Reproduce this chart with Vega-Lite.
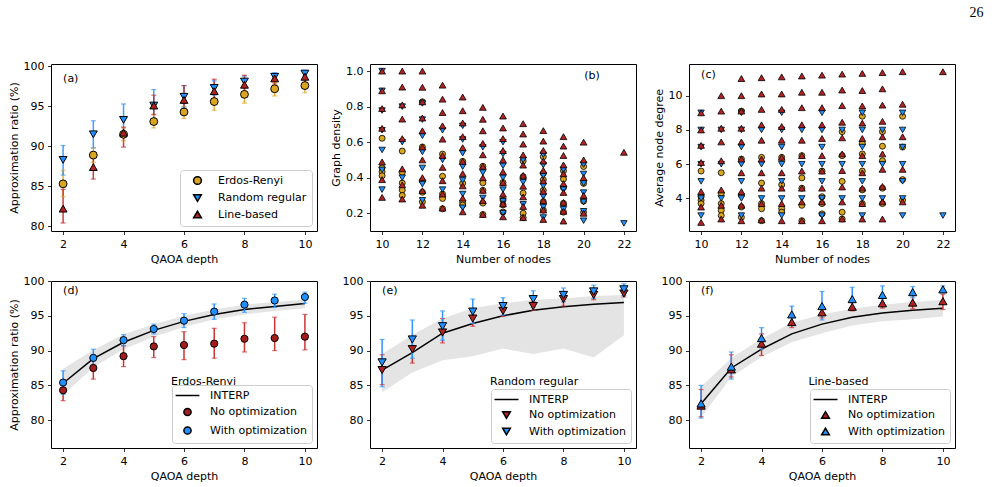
{
  "$schema": "https://vega.github.io/schema/vega-lite/v6.json",
  "background": "white",
  "padding": {"left": 7, "top": 5, "right": 0, "bottom": 0},
  "title": {"text": "26", "anchor": "end", "font": "Liberation Serif", "fontSize": 14, "fontWeight": "normal", "color": "black", "dx": 28, "offset": 40},
  "columns": 3,
  "spacing": {"row": 50, "column": 53},
  "bounds": "flush",
  "resolve": {"scale": {"fill": "independent", "shape": "independent", "stroke": "independent", "color": "independent", "size": "independent"}, "legend": {"fill": "independent", "shape": "independent"}},
  "datasets": {
    "summary_a": [
      {"graph": "Erdos-Renyi", "depth": 2, "ratio": 85.3, "lo": 83.7, "hi": 87.0},
      {"graph": "Erdos-Renyi", "depth": 3, "ratio": 88.9, "lo": 88.0, "hi": 89.8},
      {"graph": "Erdos-Renyi", "depth": 4, "ratio": 91.5, "lo": 90.7, "hi": 92.3},
      {"graph": "Erdos-Renyi", "depth": 5, "ratio": 93.1, "lo": 92.3, "hi": 93.9},
      {"graph": "Erdos-Renyi", "depth": 6, "ratio": 94.3, "lo": 93.5, "hi": 95.0},
      {"graph": "Erdos-Renyi", "depth": 7, "ratio": 95.6, "lo": 94.5, "hi": 96.5},
      {"graph": "Erdos-Renyi", "depth": 8, "ratio": 96.5, "lo": 95.4, "hi": 97.6},
      {"graph": "Erdos-Renyi", "depth": 9, "ratio": 97.2, "lo": 96.3, "hi": 98.0},
      {"graph": "Erdos-Renyi", "depth": 10, "ratio": 97.6, "lo": 96.7, "hi": 98.5},
      {"graph": "Random regular", "depth": 2, "ratio": 88.3, "lo": 86.4, "hi": 90.1},
      {"graph": "Random regular", "depth": 3, "ratio": 91.5, "lo": 89.8, "hi": 93.2},
      {"graph": "Random regular", "depth": 4, "ratio": 93.3, "lo": 91.2, "hi": 95.3},
      {"graph": "Random regular", "depth": 5, "ratio": 95.1, "lo": 93.2, "hi": 97.1},
      {"graph": "Random regular", "depth": 6, "ratio": 96.2, "lo": 94.9, "hi": 97.6},
      {"graph": "Random regular", "depth": 7, "ratio": 97.3, "lo": 96.4, "hi": 98.2},
      {"graph": "Random regular", "depth": 8, "ratio": 98.1, "lo": 97.4, "hi": 98.8},
      {"graph": "Random regular", "depth": 9, "ratio": 98.7, "lo": 98.3, "hi": 99.2},
      {"graph": "Random regular", "depth": 10, "ratio": 99.1, "lo": 98.8, "hi": 99.5},
      {"graph": "Line-based", "depth": 2, "ratio": 82.2, "lo": 80.4, "hi": 84.6},
      {"graph": "Line-based", "depth": 3, "ratio": 87.4, "lo": 85.9, "hi": 89.3},
      {"graph": "Line-based", "depth": 4, "ratio": 91.7, "lo": 89.9, "hi": 92.4},
      {"graph": "Line-based", "depth": 5, "ratio": 95.1, "lo": 94.0, "hi": 96.4},
      {"graph": "Line-based", "depth": 6, "ratio": 95.8, "lo": 94.3, "hi": 97.6},
      {"graph": "Line-based", "depth": 7, "ratio": 96.9, "lo": 95.5, "hi": 98.4},
      {"graph": "Line-based", "depth": 8, "ratio": 97.7, "lo": 96.6, "hi": 98.9},
      {"graph": "Line-based", "depth": 9, "ratio": 98.5, "lo": 97.8, "hi": 99.1},
      {"graph": "Line-based", "depth": 10, "ratio": 98.7, "lo": 98.0, "hi": 99.2}
    ],
    "opt": [
      {"graph": "Erdos-Renyi", "method": "No optimization", "depth": 2, "ratio": 84.3, "lo": 82.8, "hi": 85.8},
      {"graph": "Erdos-Renyi", "method": "No optimization", "depth": 3, "ratio": 87.5, "lo": 85.9, "hi": 89.0},
      {"graph": "Erdos-Renyi", "method": "No optimization", "depth": 4, "ratio": 89.2, "lo": 87.7, "hi": 90.7},
      {"graph": "Erdos-Renyi", "method": "No optimization", "depth": 5, "ratio": 90.6, "lo": 89.0, "hi": 92.0},
      {"graph": "Erdos-Renyi", "method": "No optimization", "depth": 6, "ratio": 90.8, "lo": 88.7, "hi": 92.7},
      {"graph": "Erdos-Renyi", "method": "No optimization", "depth": 7, "ratio": 91.0, "lo": 88.9, "hi": 93.2},
      {"graph": "Erdos-Renyi", "method": "No optimization", "depth": 8, "ratio": 91.7, "lo": 89.8, "hi": 94.0},
      {"graph": "Erdos-Renyi", "method": "No optimization", "depth": 9, "ratio": 91.8, "lo": 90.0, "hi": 94.8},
      {"graph": "Erdos-Renyi", "method": "No optimization", "depth": 10, "ratio": 92.0, "lo": 90.1, "hi": 95.2},
      {"graph": "Erdos-Renyi", "method": "With optimization", "depth": 2, "ratio": 85.4, "lo": 83.7, "hi": 87.1},
      {"graph": "Erdos-Renyi", "method": "With optimization", "depth": 3, "ratio": 88.95, "lo": 87.6, "hi": 90.2},
      {"graph": "Erdos-Renyi", "method": "With optimization", "depth": 4, "ratio": 91.5, "lo": 90.7, "hi": 92.3},
      {"graph": "Erdos-Renyi", "method": "With optimization", "depth": 5, "ratio": 93.1, "lo": 92.4, "hi": 93.8},
      {"graph": "Erdos-Renyi", "method": "With optimization", "depth": 6, "ratio": 94.3, "lo": 93.3, "hi": 95.3},
      {"graph": "Erdos-Renyi", "method": "With optimization", "depth": 7, "ratio": 95.6, "lo": 94.5, "hi": 96.7},
      {"graph": "Erdos-Renyi", "method": "With optimization", "depth": 8, "ratio": 96.6, "lo": 95.5, "hi": 97.5},
      {"graph": "Erdos-Renyi", "method": "With optimization", "depth": 9, "ratio": 97.2, "lo": 96.2, "hi": 98.1},
      {"graph": "Erdos-Renyi", "method": "With optimization", "depth": 10, "ratio": 97.7, "lo": 96.8, "hi": 98.4},
      {"graph": "Random regular", "method": "No optimization", "depth": 2, "ratio": 87.2, "lo": 85.1, "hi": 89.4},
      {"graph": "Random regular", "method": "No optimization", "depth": 3, "ratio": 90.2, "lo": 88.2, "hi": 92.0},
      {"graph": "Random regular", "method": "No optimization", "depth": 4, "ratio": 92.6, "lo": 91.1, "hi": 94.6},
      {"graph": "Random regular", "method": "No optimization", "depth": 5, "ratio": 94.6, "lo": 93.5, "hi": 95.6},
      {"graph": "Random regular", "method": "No optimization", "depth": 6, "ratio": 95.7, "lo": 94.9, "hi": 96.6},
      {"graph": "Random regular", "method": "No optimization", "depth": 7, "ratio": 96.4, "lo": 95.8, "hi": 97.0},
      {"graph": "Random regular", "method": "No optimization", "depth": 8, "ratio": 97.4, "lo": 96.4, "hi": 98.1},
      {"graph": "Random regular", "method": "No optimization", "depth": 9, "ratio": 98.0, "lo": 97.3, "hi": 98.7},
      {"graph": "Random regular", "method": "No optimization", "depth": 10, "ratio": 98.2, "lo": 97.7, "hi": 98.8},
      {"graph": "Random regular", "method": "With optimization", "depth": 2, "ratio": 88.3, "lo": 84.8, "hi": 91.6},
      {"graph": "Random regular", "method": "With optimization", "depth": 3, "ratio": 91.6, "lo": 88.9, "hi": 94.4},
      {"graph": "Random regular", "method": "With optimization", "depth": 4, "ratio": 93.5, "lo": 91.5, "hi": 95.7},
      {"graph": "Random regular", "method": "With optimization", "depth": 5, "ratio": 95.6, "lo": 93.9, "hi": 97.4},
      {"graph": "Random regular", "method": "With optimization", "depth": 6, "ratio": 96.4, "lo": 95.1, "hi": 97.6},
      {"graph": "Random regular", "method": "With optimization", "depth": 7, "ratio": 97.4, "lo": 96.2, "hi": 98.6},
      {"graph": "Random regular", "method": "With optimization", "depth": 8, "ratio": 98.0, "lo": 97.0, "hi": 99.0},
      {"graph": "Random regular", "method": "With optimization", "depth": 9, "ratio": 98.5, "lo": 97.5, "hi": 99.4},
      {"graph": "Random regular", "method": "With optimization", "depth": 10, "ratio": 98.8, "lo": 97.9, "hi": 99.6},
      {"graph": "Line-based", "method": "No optimization", "depth": 2, "ratio": 82.1, "lo": 80.5, "hi": 84.4},
      {"graph": "Line-based", "method": "No optimization", "depth": 3, "ratio": 87.3, "lo": 86.2, "hi": 89.4},
      {"graph": "Line-based", "method": "No optimization", "depth": 4, "ratio": 91.0, "lo": 89.3, "hi": 92.4},
      {"graph": "Line-based", "method": "No optimization", "depth": 5, "ratio": 94.1, "lo": 93.3, "hi": 94.9},
      {"graph": "Line-based", "method": "No optimization", "depth": 6, "ratio": 95.5, "lo": 94.7, "hi": 96.2},
      {"graph": "Line-based", "method": "No optimization", "depth": 7, "ratio": 96.3, "lo": 95.7, "hi": 96.9},
      {"graph": "Line-based", "method": "No optimization", "depth": 8, "ratio": 96.8, "lo": 96.1, "hi": 97.5},
      {"graph": "Line-based", "method": "No optimization", "depth": 9, "ratio": 96.9, "lo": 96.0, "hi": 97.9},
      {"graph": "Line-based", "method": "No optimization", "depth": 10, "ratio": 97.1, "lo": 95.9, "hi": 98.1},
      {"graph": "Line-based", "method": "With optimization", "depth": 2, "ratio": 82.4, "lo": 80.3, "hi": 85.0},
      {"graph": "Line-based", "method": "With optimization", "depth": 3, "ratio": 87.7, "lo": 85.9, "hi": 89.8},
      {"graph": "Line-based", "method": "With optimization", "depth": 4, "ratio": 91.8, "lo": 90.2, "hi": 93.3},
      {"graph": "Line-based", "method": "With optimization", "depth": 5, "ratio": 95.2, "lo": 94.1, "hi": 96.4},
      {"graph": "Line-based", "method": "With optimization", "depth": 6, "ratio": 96.4, "lo": 94.4, "hi": 98.5},
      {"graph": "Line-based", "method": "With optimization", "depth": 7, "ratio": 97.4, "lo": 95.9, "hi": 99.1},
      {"graph": "Line-based", "method": "With optimization", "depth": 8, "ratio": 98.0, "lo": 96.9, "hi": 99.3},
      {"graph": "Line-based", "method": "With optimization", "depth": 9, "ratio": 98.4, "lo": 97.6, "hi": 99.2},
      {"graph": "Line-based", "method": "With optimization", "depth": 10, "ratio": 98.8, "lo": 98.3, "hi": 99.3}
    ],
    "interp": [
      {"graph": "Erdos-Renyi", "depth": 2, "ratio": 85.3, "lo": 83.6, "hi": 87.4},
      {"graph": "Erdos-Renyi", "depth": 3, "ratio": 88.85, "lo": 87.6, "hi": 90.1},
      {"graph": "Erdos-Renyi", "depth": 4, "ratio": 91.2, "lo": 90.2, "hi": 92.3},
      {"graph": "Erdos-Renyi", "depth": 5, "ratio": 92.9, "lo": 92.0, "hi": 93.8},
      {"graph": "Erdos-Renyi", "depth": 6, "ratio": 94.2, "lo": 93.4, "hi": 95.0},
      {"graph": "Erdos-Renyi", "depth": 7, "ratio": 95.2, "lo": 94.5, "hi": 95.9},
      {"graph": "Erdos-Renyi", "depth": 8, "ratio": 95.9, "lo": 95.2, "hi": 96.6},
      {"graph": "Erdos-Renyi", "depth": 9, "ratio": 96.35, "lo": 95.7, "hi": 97.0},
      {"graph": "Erdos-Renyi", "depth": 10, "ratio": 96.75, "lo": 96.1, "hi": 97.3},
      {"graph": "Random regular", "depth": 2, "ratio": 87.2, "lo": 84.0, "hi": 89.5},
      {"graph": "Random regular", "depth": 3, "ratio": 89.7, "lo": 86.85, "hi": 92.25},
      {"graph": "Random regular", "depth": 4, "ratio": 92.5, "lo": 88.6, "hi": 94.6},
      {"graph": "Random regular", "depth": 5, "ratio": 93.9, "lo": 89.2, "hi": 96.1},
      {"graph": "Random regular", "depth": 6, "ratio": 95.0, "lo": 90.3, "hi": 96.8},
      {"graph": "Random regular", "depth": 7, "ratio": 95.8, "lo": 89.5, "hi": 97.3},
      {"graph": "Random regular", "depth": 8, "ratio": 96.3, "lo": 90.3, "hi": 97.5},
      {"graph": "Random regular", "depth": 9, "ratio": 96.65, "lo": 89.0, "hi": 97.85},
      {"graph": "Random regular", "depth": 10, "ratio": 96.9, "lo": 92.2, "hi": 98.0},
      {"graph": "Line-based", "depth": 2, "ratio": 82.35, "lo": 80.4, "hi": 84.8},
      {"graph": "Line-based", "depth": 3, "ratio": 87.5, "lo": 86.2, "hi": 88.95},
      {"graph": "Line-based", "depth": 4, "ratio": 90.2, "lo": 89.1, "hi": 91.7},
      {"graph": "Line-based", "depth": 5, "ratio": 92.4, "lo": 91.2, "hi": 94.0},
      {"graph": "Line-based", "depth": 6, "ratio": 93.8, "lo": 92.5, "hi": 95.2},
      {"graph": "Line-based", "depth": 7, "ratio": 94.8, "lo": 93.6, "hi": 96.0},
      {"graph": "Line-based", "depth": 8, "ratio": 95.4, "lo": 94.2, "hi": 96.6},
      {"graph": "Line-based", "depth": 9, "ratio": 95.8, "lo": 94.5, "hi": 97.0},
      {"graph": "Line-based", "depth": 10, "ratio": 96.1, "lo": 94.9, "hi": 97.3}
    ],
    "graphs": [
      {"graph": "Erdos-Renyi", "n": 10, "degree": 5.6, "density": 0.622},
      {"graph": "Erdos-Renyi", "n": 10, "degree": 4.1, "density": 0.456},
      {"graph": "Erdos-Renyi", "n": 10, "degree": 3.9, "density": 0.433},
      {"graph": "Erdos-Renyi", "n": 10, "degree": 3.7, "density": 0.411},
      {"graph": "Erdos-Renyi", "n": 11, "degree": 5.5, "density": 0.55},
      {"graph": "Erdos-Renyi", "n": 11, "degree": 4.3, "density": 0.43},
      {"graph": "Erdos-Renyi", "n": 11, "degree": 3.7, "density": 0.37},
      {"graph": "Erdos-Renyi", "n": 11, "degree": 3.3, "density": 0.33},
      {"graph": "Erdos-Renyi", "n": 11, "degree": 3.0, "density": 0.30},
      {"graph": "Erdos-Renyi", "n": 12, "degree": 9.1, "density": 0.827},
      {"graph": "Erdos-Renyi", "n": 12, "degree": 6.3, "density": 0.573},
      {"graph": "Erdos-Renyi", "n": 12, "degree": 4.2, "density": 0.382},
      {"graph": "Erdos-Renyi", "n": 12, "degree": 3.5, "density": 0.318},
      {"graph": "Erdos-Renyi", "n": 12, "degree": 2.9, "density": 0.264},
      {"graph": "Erdos-Renyi", "n": 13, "degree": 6.4, "density": 0.533},
      {"graph": "Erdos-Renyi", "n": 13, "degree": 4.9, "density": 0.408},
      {"graph": "Erdos-Renyi", "n": 13, "degree": 3.7, "density": 0.308},
      {"graph": "Erdos-Renyi", "n": 13, "degree": 3.4, "density": 0.283},
      {"graph": "Erdos-Renyi", "n": 13, "degree": 2.7, "density": 0.225},
      {"graph": "Erdos-Renyi", "n": 14, "degree": 6.4, "density": 0.492},
      {"graph": "Erdos-Renyi", "n": 14, "degree": 4.8, "density": 0.369},
      {"graph": "Erdos-Renyi", "n": 14, "degree": 3.4, "density": 0.262},
      {"graph": "Erdos-Renyi", "n": 14, "degree": 3.2, "density": 0.246},
      {"graph": "Erdos-Renyi", "n": 15, "degree": 6.5, "density": 0.464},
      {"graph": "Erdos-Renyi", "n": 15, "degree": 5.2, "density": 0.371},
      {"graph": "Erdos-Renyi", "n": 15, "degree": 4.6, "density": 0.329},
      {"graph": "Erdos-Renyi", "n": 15, "degree": 3.6, "density": 0.257},
      {"graph": "Erdos-Renyi", "n": 15, "degree": 2.7, "density": 0.193},
      {"graph": "Erdos-Renyi", "n": 16, "degree": 5.6, "density": 0.373},
      {"graph": "Erdos-Renyi", "n": 16, "degree": 4.1, "density": 0.273},
      {"graph": "Erdos-Renyi", "n": 16, "degree": 3.7, "density": 0.247},
      {"graph": "Erdos-Renyi", "n": 16, "degree": 3.1, "density": 0.207},
      {"graph": "Erdos-Renyi", "n": 17, "degree": 7.9, "density": 0.494},
      {"graph": "Erdos-Renyi", "n": 17, "degree": 6.5, "density": 0.406},
      {"graph": "Erdos-Renyi", "n": 17, "degree": 5.0, "density": 0.313},
      {"graph": "Erdos-Renyi", "n": 17, "degree": 3.2, "density": 0.2},
      {"graph": "Erdos-Renyi", "n": 17, "degree": 2.8, "density": 0.175},
      {"graph": "Erdos-Renyi", "n": 18, "degree": 8.8, "density": 0.518},
      {"graph": "Erdos-Renyi", "n": 18, "degree": 7.2, "density": 0.424},
      {"graph": "Erdos-Renyi", "n": 18, "degree": 6.6, "density": 0.388},
      {"graph": "Erdos-Renyi", "n": 18, "degree": 5.6, "density": 0.329},
      {"graph": "Erdos-Renyi", "n": 18, "degree": 4.5, "density": 0.265},
      {"graph": "Erdos-Renyi", "n": 18, "degree": 3.7, "density": 0.218},
      {"graph": "Erdos-Renyi", "n": 19, "degree": 7.9, "density": 0.439},
      {"graph": "Erdos-Renyi", "n": 19, "degree": 7.05, "density": 0.392},
      {"graph": "Erdos-Renyi", "n": 19, "degree": 6.2, "density": 0.344},
      {"graph": "Erdos-Renyi", "n": 19, "degree": 4.6, "density": 0.256},
      {"graph": "Erdos-Renyi", "n": 19, "degree": 3.7, "density": 0.206},
      {"graph": "Erdos-Renyi", "n": 20, "degree": 8.8, "density": 0.463},
      {"graph": "Erdos-Renyi", "n": 20, "degree": 7.0, "density": 0.368},
      {"graph": "Erdos-Renyi", "n": 20, "degree": 5.1, "density": 0.268},
      {"graph": "Erdos-Renyi", "n": 20, "degree": 3.9, "density": 0.205},
      {"graph": "Random regular", "n": 10, "degree": 3, "density": 0.333},
      {"graph": "Random regular", "n": 10, "degree": 4, "density": 0.444},
      {"graph": "Random regular", "n": 10, "degree": 5, "density": 0.556},
      {"graph": "Random regular", "n": 10, "degree": 6, "density": 0.667},
      {"graph": "Random regular", "n": 10, "degree": 7, "density": 0.778},
      {"graph": "Random regular", "n": 10, "degree": 8, "density": 0.889},
      {"graph": "Random regular", "n": 10, "degree": 9, "density": 1.0},
      {"graph": "Random regular", "n": 11, "degree": 4, "density": 0.4},
      {"graph": "Random regular", "n": 11, "degree": 6, "density": 0.6},
      {"graph": "Random regular", "n": 11, "degree": 8, "density": 0.8},
      {"graph": "Random regular", "n": 12, "degree": 3, "density": 0.273},
      {"graph": "Random regular", "n": 12, "degree": 4, "density": 0.364},
      {"graph": "Random regular", "n": 12, "degree": 5, "density": 0.455},
      {"graph": "Random regular", "n": 12, "degree": 6, "density": 0.545},
      {"graph": "Random regular", "n": 12, "degree": 7, "density": 0.636},
      {"graph": "Random regular", "n": 12, "degree": 8, "density": 0.727},
      {"graph": "Random regular", "n": 12, "degree": 9, "density": 0.818},
      {"graph": "Random regular", "n": 13, "degree": 4, "density": 0.333},
      {"graph": "Random regular", "n": 13, "degree": 6, "density": 0.5},
      {"graph": "Random regular", "n": 13, "degree": 8, "density": 0.667},
      {"graph": "Random regular", "n": 14, "degree": 3, "density": 0.231},
      {"graph": "Random regular", "n": 14, "degree": 4, "density": 0.308},
      {"graph": "Random regular", "n": 14, "degree": 5, "density": 0.385},
      {"graph": "Random regular", "n": 14, "degree": 6, "density": 0.462},
      {"graph": "Random regular", "n": 14, "degree": 7, "density": 0.538},
      {"graph": "Random regular", "n": 14, "degree": 8, "density": 0.615},
      {"graph": "Random regular", "n": 14, "degree": 9, "density": 0.692},
      {"graph": "Random regular", "n": 15, "degree": 4, "density": 0.286},
      {"graph": "Random regular", "n": 15, "degree": 6, "density": 0.429},
      {"graph": "Random regular", "n": 15, "degree": 8, "density": 0.571},
      {"graph": "Random regular", "n": 16, "degree": 3, "density": 0.2},
      {"graph": "Random regular", "n": 16, "degree": 4, "density": 0.267},
      {"graph": "Random regular", "n": 16, "degree": 5, "density": 0.333},
      {"graph": "Random regular", "n": 16, "degree": 6, "density": 0.4},
      {"graph": "Random regular", "n": 16, "degree": 7, "density": 0.467},
      {"graph": "Random regular", "n": 16, "degree": 8, "density": 0.533},
      {"graph": "Random regular", "n": 16, "degree": 9, "density": 0.6},
      {"graph": "Random regular", "n": 17, "degree": 4, "density": 0.25},
      {"graph": "Random regular", "n": 17, "degree": 6, "density": 0.375},
      {"graph": "Random regular", "n": 17, "degree": 8, "density": 0.5},
      {"graph": "Random regular", "n": 18, "degree": 3, "density": 0.176},
      {"graph": "Random regular", "n": 18, "degree": 4, "density": 0.235},
      {"graph": "Random regular", "n": 18, "degree": 5, "density": 0.294},
      {"graph": "Random regular", "n": 18, "degree": 6, "density": 0.353},
      {"graph": "Random regular", "n": 18, "degree": 7, "density": 0.412},
      {"graph": "Random regular", "n": 18, "degree": 8, "density": 0.471},
      {"graph": "Random regular", "n": 18, "degree": 9, "density": 0.529},
      {"graph": "Random regular", "n": 19, "degree": 4, "density": 0.222},
      {"graph": "Random regular", "n": 19, "degree": 6, "density": 0.333},
      {"graph": "Random regular", "n": 19, "degree": 8, "density": 0.444},
      {"graph": "Random regular", "n": 20, "degree": 3, "density": 0.158},
      {"graph": "Random regular", "n": 20, "degree": 4, "density": 0.211},
      {"graph": "Random regular", "n": 20, "degree": 5, "density": 0.263},
      {"graph": "Random regular", "n": 20, "degree": 6, "density": 0.316},
      {"graph": "Random regular", "n": 20, "degree": 7, "density": 0.368},
      {"graph": "Random regular", "n": 20, "degree": 8, "density": 0.421},
      {"graph": "Random regular", "n": 20, "degree": 9, "density": 0.474},
      {"graph": "Random regular", "n": 22, "degree": 3, "density": 0.143},
      {"graph": "Line-based", "n": 10, "degree": 9.0, "density": 1.0},
      {"graph": "Line-based", "n": 10, "degree": 8.0, "density": 0.889},
      {"graph": "Line-based", "n": 10, "degree": 7.1, "density": 0.789},
      {"graph": "Line-based", "n": 10, "degree": 6.1, "density": 0.678},
      {"graph": "Line-based", "n": 10, "degree": 4.4, "density": 0.489},
      {"graph": "Line-based", "n": 10, "degree": 3.5, "density": 0.389},
      {"graph": "Line-based", "n": 10, "degree": 2.6, "density": 0.289},
      {"graph": "Line-based", "n": 11, "degree": 10.0, "density": 1.0},
      {"graph": "Line-based", "n": 11, "degree": 9.1, "density": 0.91},
      {"graph": "Line-based", "n": 11, "degree": 8.1, "density": 0.81},
      {"graph": "Line-based", "n": 11, "degree": 7.3, "density": 0.73},
      {"graph": "Line-based", "n": 11, "degree": 6.2, "density": 0.62},
      {"graph": "Line-based", "n": 11, "degree": 4.5, "density": 0.45},
      {"graph": "Line-based", "n": 11, "degree": 3.6, "density": 0.36},
      {"graph": "Line-based", "n": 11, "degree": 2.8, "density": 0.28},
      {"graph": "Line-based", "n": 12, "degree": 11.0, "density": 1.0},
      {"graph": "Line-based", "n": 12, "degree": 10.0, "density": 0.909},
      {"graph": "Line-based", "n": 12, "degree": 9.1, "density": 0.827},
      {"graph": "Line-based", "n": 12, "degree": 8.1, "density": 0.736},
      {"graph": "Line-based", "n": 12, "degree": 7.3, "density": 0.664},
      {"graph": "Line-based", "n": 12, "degree": 6.3, "density": 0.573},
      {"graph": "Line-based", "n": 12, "degree": 5.5, "density": 0.5},
      {"graph": "Line-based", "n": 12, "degree": 4.4, "density": 0.4},
      {"graph": "Line-based", "n": 12, "degree": 3.6, "density": 0.327},
      {"graph": "Line-based", "n": 12, "degree": 2.7, "density": 0.245},
      {"graph": "Line-based", "n": 13, "degree": 11.05, "density": 0.921},
      {"graph": "Line-based", "n": 13, "degree": 10.1, "density": 0.842},
      {"graph": "Line-based", "n": 13, "degree": 9.2, "density": 0.767},
      {"graph": "Line-based", "n": 13, "degree": 8.3, "density": 0.692},
      {"graph": "Line-based", "n": 13, "degree": 7.4, "density": 0.617},
      {"graph": "Line-based", "n": 13, "degree": 6.3, "density": 0.525},
      {"graph": "Line-based", "n": 13, "degree": 5.5, "density": 0.458},
      {"graph": "Line-based", "n": 13, "degree": 4.6, "density": 0.383},
      {"graph": "Line-based", "n": 13, "degree": 3.7, "density": 0.308},
      {"graph": "Line-based", "n": 13, "degree": 2.75, "density": 0.229},
      {"graph": "Line-based", "n": 14, "degree": 11.1, "density": 0.854},
      {"graph": "Line-based", "n": 14, "degree": 10.1, "density": 0.777},
      {"graph": "Line-based", "n": 14, "degree": 9.2, "density": 0.708},
      {"graph": "Line-based", "n": 14, "degree": 8.2, "density": 0.631},
      {"graph": "Line-based", "n": 14, "degree": 7.4, "density": 0.569},
      {"graph": "Line-based", "n": 14, "degree": 6.4, "density": 0.492},
      {"graph": "Line-based", "n": 14, "degree": 5.5, "density": 0.423},
      {"graph": "Line-based", "n": 14, "degree": 4.6, "density": 0.354},
      {"graph": "Line-based", "n": 14, "degree": 3.7, "density": 0.285},
      {"graph": "Line-based", "n": 14, "degree": 2.7, "density": 0.208},
      {"graph": "Line-based", "n": 15, "degree": 11.15, "density": 0.796},
      {"graph": "Line-based", "n": 15, "degree": 10.2, "density": 0.729},
      {"graph": "Line-based", "n": 15, "degree": 9.3, "density": 0.664},
      {"graph": "Line-based", "n": 15, "degree": 8.3, "density": 0.593},
      {"graph": "Line-based", "n": 15, "degree": 7.4, "density": 0.529},
      {"graph": "Line-based", "n": 15, "degree": 6.5, "density": 0.464},
      {"graph": "Line-based", "n": 15, "degree": 5.6, "density": 0.4},
      {"graph": "Line-based", "n": 15, "degree": 4.6, "density": 0.329},
      {"graph": "Line-based", "n": 15, "degree": 3.8, "density": 0.271},
      {"graph": "Line-based", "n": 15, "degree": 2.7, "density": 0.193},
      {"graph": "Line-based", "n": 16, "degree": 11.2, "density": 0.747},
      {"graph": "Line-based", "n": 16, "degree": 10.2, "density": 0.68},
      {"graph": "Line-based", "n": 16, "degree": 9.3, "density": 0.62},
      {"graph": "Line-based", "n": 16, "degree": 8.3, "density": 0.553},
      {"graph": "Line-based", "n": 16, "degree": 7.5, "density": 0.5},
      {"graph": "Line-based", "n": 16, "degree": 6.5, "density": 0.433},
      {"graph": "Line-based", "n": 16, "degree": 5.6, "density": 0.373},
      {"graph": "Line-based", "n": 16, "degree": 4.6, "density": 0.307},
      {"graph": "Line-based", "n": 16, "degree": 3.8, "density": 0.253},
      {"graph": "Line-based", "n": 16, "degree": 2.7, "density": 0.18},
      {"graph": "Line-based", "n": 17, "degree": 11.26, "density": 0.704},
      {"graph": "Line-based", "n": 17, "degree": 10.33, "density": 0.646},
      {"graph": "Line-based", "n": 17, "degree": 9.42, "density": 0.589},
      {"graph": "Line-based", "n": 17, "degree": 8.45, "density": 0.528},
      {"graph": "Line-based", "n": 17, "degree": 7.54, "density": 0.471},
      {"graph": "Line-based", "n": 17, "degree": 6.6, "density": 0.413},
      {"graph": "Line-based", "n": 17, "degree": 5.63, "density": 0.352},
      {"graph": "Line-based", "n": 17, "degree": 4.67, "density": 0.292},
      {"graph": "Line-based", "n": 17, "degree": 3.8, "density": 0.238},
      {"graph": "Line-based", "n": 17, "degree": 2.8, "density": 0.175},
      {"graph": "Line-based", "n": 18, "degree": 11.3, "density": 0.665},
      {"graph": "Line-based", "n": 18, "degree": 10.3, "density": 0.606},
      {"graph": "Line-based", "n": 18, "degree": 9.4, "density": 0.553},
      {"graph": "Line-based", "n": 18, "degree": 8.4, "density": 0.494},
      {"graph": "Line-based", "n": 18, "degree": 7.5, "density": 0.441},
      {"graph": "Line-based", "n": 18, "degree": 6.5, "density": 0.382},
      {"graph": "Line-based", "n": 18, "degree": 5.5, "density": 0.324},
      {"graph": "Line-based", "n": 18, "degree": 4.6, "density": 0.271},
      {"graph": "Line-based", "n": 18, "degree": 3.7, "density": 0.218},
      {"graph": "Line-based", "n": 18, "degree": 2.8, "density": 0.165},
      {"graph": "Line-based", "n": 19, "degree": 11.35, "density": 0.631},
      {"graph": "Line-based", "n": 19, "degree": 10.4, "density": 0.578},
      {"graph": "Line-based", "n": 19, "degree": 9.45, "density": 0.525},
      {"graph": "Line-based", "n": 19, "degree": 8.5, "density": 0.472},
      {"graph": "Line-based", "n": 19, "degree": 7.6, "density": 0.422},
      {"graph": "Line-based", "n": 19, "degree": 6.6, "density": 0.367},
      {"graph": "Line-based", "n": 19, "degree": 5.7, "density": 0.317},
      {"graph": "Line-based", "n": 19, "degree": 4.7, "density": 0.261},
      {"graph": "Line-based", "n": 19, "degree": 3.8, "density": 0.211},
      {"graph": "Line-based", "n": 19, "degree": 2.8, "density": 0.156},
      {"graph": "Line-based", "n": 20, "degree": 11.4, "density": 0.6},
      {"graph": "Line-based", "n": 20, "degree": 9.5, "density": 0.5},
      {"graph": "Line-based", "n": 20, "degree": 7.6, "density": 0.4},
      {"graph": "Line-based", "n": 20, "degree": 5.7, "density": 0.3},
      {"graph": "Line-based", "n": 20, "degree": 3.8, "density": 0.2},
      {"graph": "Line-based", "n": 22, "degree": 11.4, "density": 0.543}
    ]
  },
  "concat": [
    {
      "width": 266, "height": 167,
      "layer": [
        {
          "data": {"name": "summary_a"},
          "mark": {"type": "rule", "strokeWidth": 1.5, "opacity": 0.9},
          "encoding": {
            "x": {"field": "depth", "type": "quantitative", "scale": {"domain": [1.6, 10.4], "nice": false, "zero": false}, "axis": {"values": [2, 4, 6, 8, 10], "title": "QAOA depth"}},
            "y": {"field": "lo", "type": "quantitative", "scale": {"domain": [79.4, 100.3], "nice": false, "zero": false}, "axis": {"values": [80, 85, 90, 95, 100], "title": "Approximation ratio (%)"}},
            "y2": {"field": "hi"},
            "stroke": {"field": "graph", "type": "nominal", "scale": {"domain": ["Line-based", "Erdos-Renyi", "Random regular"], "range": ["#c42a2a", "#e3a822", "#2f93ff"]}, "legend": null}
          }
        },
        {
          "data": {"name": "summary_a"},
          "transform": [{"fold": ["lo", "hi"], "as": ["end", "bound"]}],
          "mark": {"type": "tick", "orient": "horizontal", "size": 5, "thickness": 1.2},
          "encoding": {
            "x": {"field": "depth", "type": "quantitative"},
            "y": {"field": "bound", "type": "quantitative"},
            "color": {"field": "graph", "type": "nominal", "scale": {"domain": ["Random regular", "Line-based", "Erdos-Renyi"], "range": ["#2f93ff", "#c42a2a", "#e3a822"]}, "legend": null}
          }
        },
        {
          "data": {"name": "summary_a"},
          "mark": {"type": "point", "filled": true, "stroke": "black", "strokeWidth": 1, "opacity": 1, "size": 62},
          "encoding": {
            "x": {"field": "depth", "type": "quantitative"},
            "y": {"field": "ratio", "type": "quantitative"},
            "fill": {"field": "graph", "type": "nominal", "scale": {"domain": ["Erdos-Renyi", "Random regular", "Line-based"], "range": ["#daa520", "#1e90ff", "#b22222"]}, "legend": {"title": null, "orient": "bottom-right", "offset": 5, "symbolOffset": 7, "labelOffset": 15, "symbolSize": 60, "rowPadding": 3.5, "strokeColor": "#cccccc", "fillColor": "white", "cornerRadius": 3, "encode": {"symbols": {"update": {"stroke": {"value": "black"}, "strokeWidth": {"value": 1}}}}}},
            "shape": {"field": "graph", "type": "nominal", "scale": {"domain": ["Erdos-Renyi", "Random regular", "Line-based"], "range": ["circle", "triangle-down", "triangle-up"]}}
          }
        },
        {
          "data": {"values": [{}]},
          "mark": {"type": "text", "align": "left", "baseline": "middle"},
          "encoding": {"x": {"datum": 2}, "y": {"datum": 98.45}, "text": {"value": "(a)"}}
        }
      ]
    },
    {
      "width": 266, "height": 167,
      "layer": [
        {
          "data": {"name": "graphs"},
          "mark": {"type": "point", "filled": true, "stroke": "black", "strokeWidth": 0.8, "opacity": 1},
          "encoding": {
            "x": {"field": "n", "type": "quantitative", "scale": {"domain": [9.4, 22.6], "nice": false, "zero": false}, "axis": {"values": [10, 12, 14, 16, 18, 20, 22], "title": "Number of nodes"}},
            "y": {"field": "density", "type": "quantitative", "scale": {"domain": [0.1, 1.04], "nice": false, "zero": false}, "axis": {"values": [0.2, 0.4, 0.6, 0.8, 1.0], "format": ".1f", "title": "Graph density"}},
            "fill": {"field": "graph", "type": "nominal", "scale": {"domain": ["Erdos-Renyi", "Random regular", "Line-based"], "range": ["#daa520", "#1e90ff", "#b22222"]}, "legend": null},
            "shape": {"field": "graph", "type": "nominal", "scale": {"domain": ["Erdos-Renyi", "Random regular", "Line-based"], "range": ["circle", "triangle-down", "triangle-up"]}, "legend": null},
            "size": {"field": "graph", "type": "ordinal", "scale": {"domain": ["Erdos-Renyi", "Random regular", "Line-based"], "range": [36, 46, 46]}, "legend": null}
          }
        },
        {
          "data": {"values": [{}]},
          "mark": {"type": "text", "align": "left", "baseline": "middle"},
          "encoding": {"x": {"datum": 20.03}, "y": {"datum": 0.97}, "text": {"value": "(b)"}}
        }
      ]
    },
    {
      "width": 266, "height": 167,
      "layer": [
        {
          "data": {"name": "graphs"},
          "mark": {"type": "point", "filled": true, "stroke": "black", "strokeWidth": 0.8, "opacity": 1},
          "encoding": {
            "x": {"field": "n", "type": "quantitative", "scale": {"domain": [9.4, 22.6], "nice": false, "zero": false}, "axis": {"values": [10, 12, 14, 16, 18, 20, 22], "title": "Number of nodes"}},
            "y": {"field": "degree", "type": "quantitative", "scale": {"domain": [2.1, 11.85], "nice": false, "zero": false}, "axis": {"values": [4, 6, 8, 10], "title": "Average node degree"}},
            "fill": {"field": "graph", "type": "nominal", "scale": {"domain": ["Erdos-Renyi", "Random regular", "Line-based"], "range": ["#daa520", "#1e90ff", "#b22222"]}, "legend": null},
            "shape": {"field": "graph", "type": "nominal", "scale": {"domain": ["Erdos-Renyi", "Random regular", "Line-based"], "range": ["circle", "triangle-down", "triangle-up"]}, "legend": null},
            "size": {"field": "graph", "type": "ordinal", "scale": {"domain": ["Erdos-Renyi", "Random regular", "Line-based"], "range": [36, 46, 46]}, "legend": null}
          }
        },
        {
          "data": {"values": [{}]},
          "mark": {"type": "text", "align": "left", "baseline": "middle"},
          "encoding": {"x": {"datum": 10}, "y": {"datum": 11.19}, "text": {"value": "(c)"}}
        }
      ]
    },
    {
      "width": 266, "height": 167,
      "layer": [
        {
          "data": {"name": "interp"},
          "transform": [{"filter": "datum.graph === 'Erdos-Renyi'"}],
          "mark": {"type": "area", "color": "#e4e4e4"},
          "encoding": {
            "x": {"field": "depth", "type": "quantitative", "scale": {"domain": [1.6, 10.4], "nice": false, "zero": false}, "axis": {"values": [2, 4, 6, 8, 10], "title": "QAOA depth"}},
            "y": {"field": "lo", "type": "quantitative", "scale": {"domain": [76, 100], "nice": false, "zero": false}, "axis": {"values": [80, 85, 90, 95, 100], "title": "Approximation ratio (%)"}},
            "y2": {"field": "hi"}
          }
        },
        {
          "data": {"name": "interp"},
          "transform": [{"filter": "datum.graph === 'Erdos-Renyi'"}],
          "mark": {"type": "line", "color": "black", "strokeWidth": 1.5},
          "encoding": {"x": {"field": "depth", "type": "quantitative"}, "y": {"field": "ratio", "type": "quantitative"}}
        },
        {
          "data": {"name": "opt"},
          "transform": [{"filter": "datum.graph === 'Erdos-Renyi'"}],
          "mark": {"type": "rule", "strokeWidth": 1.5},
          "encoding": {
            "x": {"field": "depth", "type": "quantitative"},
            "y": {"field": "lo", "type": "quantitative"}, "y2": {"field": "hi"},
            "stroke": {"field": "method", "type": "nominal", "scale": {"domain": ["No optimization", "With optimization"], "range": ["#cc3333", "#2f93ff"]}, "legend": null}
          }
        },
        {
          "data": {"name": "opt"},
          "transform": [{"filter": "datum.graph === 'Erdos-Renyi'"}, {"fold": ["lo", "hi"], "as": ["end", "bound"]}],
          "mark": {"type": "tick", "orient": "horizontal", "size": 5, "thickness": 1.2},
          "encoding": {
            "x": {"field": "depth", "type": "quantitative"},
            "y": {"field": "bound", "type": "quantitative"},
            "color": {"field": "method", "type": "nominal", "scale": {"domain": ["No optimization", "With optimization"], "range": ["#cc3333", "#2f93ff"]}, "legend": null}
          }
        },
        {
          "data": {"name": "opt"},
          "transform": [{"filter": "datum.graph === 'Erdos-Renyi'"}],
          "mark": {"type": "point", "filled": true, "stroke": "black", "strokeWidth": 1, "opacity": 1, "size": 52},
          "encoding": {
            "x": {"field": "depth", "type": "quantitative"},
            "y": {"field": "ratio", "type": "quantitative"},
            "fill": {"field": "method", "type": "nominal", "scale": {"domain": ["INTERP", "No optimization", "With optimization"], "range": ["black", "#a51c1c", "#1e90ff"]}, "legend": {"title": null, "orient": "bottom-right", "offset": 5, "symbolOffset": 5, "labelOffset": 17, "symbolSize": 52, "rowPadding": 3.5, "strokeColor": "#cccccc", "fillColor": "white", "cornerRadius": 3, "encode": {"symbols": {"update": {"stroke": {"value": "black"}, "strokeWidth": {"value": 1.2}}}}}},
            "shape": {"field": "method", "type": "nominal", "scale": {"domain": ["INTERP", "No optimization", "With optimization"], "range": ["M-3.3,0L3.3,0", "circle", "circle"]}}
          }
        },
        {
          "data": {"values": [{}]},
          "mark": {"type": "text", "align": "left", "baseline": "middle"},
          "encoding": {"x": {"datum": 2}, "y": {"datum": 98.57}, "text": {"value": "(d)"}}
        },
        {
          "data": {"values": [{}]},
          "mark": {"type": "text", "align": "left", "baseline": "middle"},
          "encoding": {"x": {"datum": 5.57}, "y": {"datum": 85.55}, "text": {"value": "Erdos-Renyi"}}
        }
      ]
    },
    {
      "width": 266, "height": 167,
      "layer": [
        {
          "data": {"name": "interp"},
          "transform": [{"filter": "datum.graph === 'Random regular'"}],
          "mark": {"type": "area", "color": "#e4e4e4"},
          "encoding": {
            "x": {"field": "depth", "type": "quantitative", "scale": {"domain": [1.6, 10.4], "nice": false, "zero": false}, "axis": {"values": [2, 4, 6, 8, 10], "title": "QAOA depth"}},
            "y": {"field": "lo", "type": "quantitative", "scale": {"domain": [76, 100], "nice": false, "zero": false}, "axis": {"values": [80, 85, 90, 95, 100], "title": null}},
            "y2": {"field": "hi"}
          }
        },
        {
          "data": {"name": "interp"},
          "transform": [{"filter": "datum.graph === 'Random regular'"}],
          "mark": {"type": "line", "color": "black", "strokeWidth": 1.5},
          "encoding": {"x": {"field": "depth", "type": "quantitative"}, "y": {"field": "ratio", "type": "quantitative"}}
        },
        {
          "data": {"name": "opt"},
          "transform": [{"filter": "datum.graph === 'Random regular'"}],
          "mark": {"type": "rule", "strokeWidth": 1.5},
          "encoding": {
            "x": {"field": "depth", "type": "quantitative"},
            "y": {"field": "lo", "type": "quantitative"}, "y2": {"field": "hi"},
            "stroke": {"field": "method", "type": "nominal", "scale": {"domain": ["No optimization", "With optimization"], "range": ["#cc3333", "#2f93ff"]}, "legend": null}
          }
        },
        {
          "data": {"name": "opt"},
          "transform": [{"filter": "datum.graph === 'Random regular'"}, {"fold": ["lo", "hi"], "as": ["end", "bound"]}],
          "mark": {"type": "tick", "orient": "horizontal", "size": 5, "thickness": 1.2},
          "encoding": {
            "x": {"field": "depth", "type": "quantitative"},
            "y": {"field": "bound", "type": "quantitative"},
            "color": {"field": "method", "type": "nominal", "scale": {"domain": ["No optimization", "With optimization"], "range": ["#cc3333", "#2f93ff"]}, "legend": null}
          }
        },
        {
          "data": {"name": "opt"},
          "transform": [{"filter": "datum.graph === 'Random regular'"}],
          "mark": {"type": "point", "filled": true, "stroke": "black", "strokeWidth": 1, "opacity": 1, "size": 68},
          "encoding": {
            "x": {"field": "depth", "type": "quantitative"},
            "y": {"field": "ratio", "type": "quantitative"},
            "fill": {"field": "method", "type": "nominal", "scale": {"domain": ["INTERP", "No optimization", "With optimization"], "range": ["black", "#b22222", "#1e90ff"]}, "legend": {"title": null, "orient": "bottom-right", "offset": 5, "symbolOffset": 5, "labelOffset": 17, "symbolSize": 60, "rowPadding": 3.5, "strokeColor": "#cccccc", "fillColor": "white", "cornerRadius": 3, "encode": {"symbols": {"update": {"stroke": {"value": "black"}, "strokeWidth": {"value": 1.2}}}}}},
            "shape": {"field": "method", "type": "nominal", "scale": {"domain": ["INTERP", "No optimization", "With optimization"], "range": ["M-3.1,0L3.1,0", "triangle-down", "triangle-down"]}}
          }
        },
        {
          "data": {"values": [{}]},
          "mark": {"type": "text", "align": "left", "baseline": "middle"},
          "encoding": {"x": {"datum": 2}, "y": {"datum": 98.57}, "text": {"value": "(e)"}}
        },
        {
          "data": {"values": [{}]},
          "mark": {"type": "text", "align": "left", "baseline": "middle"},
          "encoding": {"x": {"datum": 5.57}, "y": {"datum": 85.55}, "text": {"value": "Random regular"}}
        }
      ]
    },
    {
      "width": 266, "height": 167,
      "layer": [
        {
          "data": {"name": "interp"},
          "transform": [{"filter": "datum.graph === 'Line-based'"}],
          "mark": {"type": "area", "color": "#e4e4e4"},
          "encoding": {
            "x": {"field": "depth", "type": "quantitative", "scale": {"domain": [1.6, 10.4], "nice": false, "zero": false}, "axis": {"values": [2, 4, 6, 8, 10], "title": "QAOA depth"}},
            "y": {"field": "lo", "type": "quantitative", "scale": {"domain": [76, 100], "nice": false, "zero": false}, "axis": {"values": [80, 85, 90, 95, 100], "title": null}},
            "y2": {"field": "hi"}
          }
        },
        {
          "data": {"name": "interp"},
          "transform": [{"filter": "datum.graph === 'Line-based'"}],
          "mark": {"type": "line", "color": "black", "strokeWidth": 1.5},
          "encoding": {"x": {"field": "depth", "type": "quantitative"}, "y": {"field": "ratio", "type": "quantitative"}}
        },
        {
          "data": {"name": "opt"},
          "transform": [{"filter": "datum.graph === 'Line-based'"}],
          "mark": {"type": "rule", "strokeWidth": 1.5},
          "encoding": {
            "x": {"field": "depth", "type": "quantitative"},
            "y": {"field": "lo", "type": "quantitative"}, "y2": {"field": "hi"},
            "stroke": {"field": "method", "type": "nominal", "scale": {"domain": ["No optimization", "With optimization"], "range": ["#cc3333", "#2f93ff"]}, "legend": null}
          }
        },
        {
          "data": {"name": "opt"},
          "transform": [{"filter": "datum.graph === 'Line-based'"}, {"fold": ["lo", "hi"], "as": ["end", "bound"]}],
          "mark": {"type": "tick", "orient": "horizontal", "size": 5, "thickness": 1.2},
          "encoding": {
            "x": {"field": "depth", "type": "quantitative"},
            "y": {"field": "bound", "type": "quantitative"},
            "color": {"field": "method", "type": "nominal", "scale": {"domain": ["No optimization", "With optimization"], "range": ["#cc3333", "#2f93ff"]}, "legend": null}
          }
        },
        {
          "data": {"name": "opt"},
          "transform": [{"filter": "datum.graph === 'Line-based'"}],
          "mark": {"type": "point", "filled": true, "stroke": "black", "strokeWidth": 1, "opacity": 1, "size": 68},
          "encoding": {
            "x": {"field": "depth", "type": "quantitative"},
            "y": {"field": "ratio", "type": "quantitative"},
            "fill": {"field": "method", "type": "nominal", "scale": {"domain": ["INTERP", "No optimization", "With optimization"], "range": ["black", "#b22222", "#1e90ff"]}, "legend": {"title": null, "orient": "bottom-right", "offset": 5, "symbolOffset": 5, "labelOffset": 17, "symbolSize": 60, "rowPadding": 3.5, "strokeColor": "#cccccc", "fillColor": "white", "cornerRadius": 3, "encode": {"symbols": {"update": {"stroke": {"value": "black"}, "strokeWidth": {"value": 1.2}}}}}},
            "shape": {"field": "method", "type": "nominal", "scale": {"domain": ["INTERP", "No optimization", "With optimization"], "range": ["M-3.1,0L3.1,0", "triangle-up", "triangle-up"]}}
          }
        },
        {
          "data": {"values": [{}]},
          "mark": {"type": "text", "align": "left", "baseline": "middle"},
          "encoding": {"x": {"datum": 2}, "y": {"datum": 98.57}, "text": {"value": "(f)"}}
        },
        {
          "data": {"values": [{}]},
          "mark": {"type": "text", "align": "left", "baseline": "middle"},
          "encoding": {"x": {"datum": 5.55}, "y": {"datum": 85.55}, "text": {"value": "Line-based"}}
        }
      ]
    }
  ],
  "config": {
    "font": "DejaVu Sans",
    "view": {"stroke": "black", "strokeWidth": 1},
    "axis": {"grid": false, "domain": false, "tickColor": "black", "tickSize": 3.5, "tickWidth": 0.8, "labelColor": "black", "labelFont": "DejaVu Sans", "labelFontSize": 11, "labelPadding": 3.5, "labelFlush": false, "labelOverlap": false, "titleFont": "DejaVu Sans", "titleFontSize": 11, "titleFontWeight": "normal", "titleColor": "black", "titlePadding": 4},
    "legend": {"labelFont": "DejaVu Sans", "labelFontSize": 11, "labelColor": "black", "padding": 5, "rowPadding": 3.5, "labelLimit": 250},
    "text": {"font": "DejaVu Sans", "fontSize": 11, "color": "black"}
  }
}
